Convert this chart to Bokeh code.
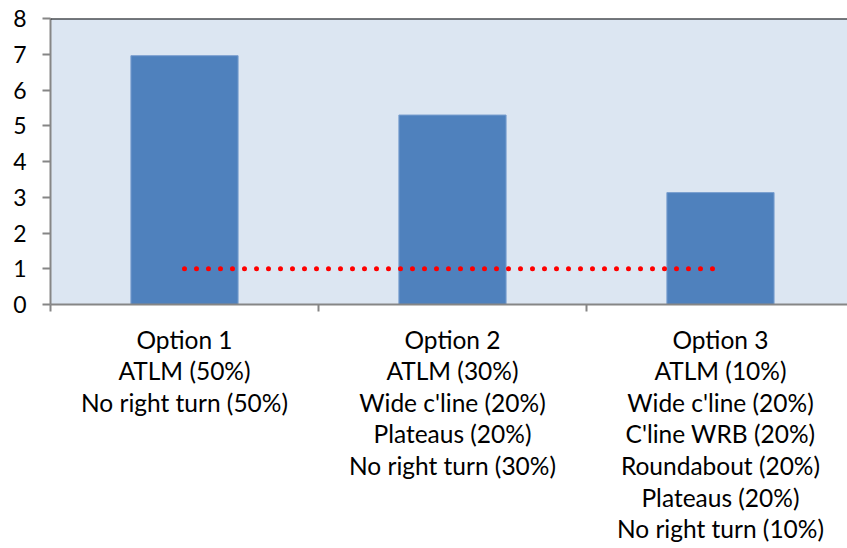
from bokeh.plotting import figure
from bokeh.models import Range1d, FixedTicker, ColumnDataSource, Span
from bokeh.embed import file_html
from bokeh.resources import INLINE

# ---- data ----
options = [1, 2, 3]
values = [6.96, 5.30, 3.13]
option_labels = [
    "Option 1\nATLM (50%)\nNo right turn (50%)",
    "Option 2\nATLM (30%)\nWide c'line (20%)\nPlateaus (20%)\nNo right turn (30%)",
    "Option 3\nATLM (10%)\nWide c'line (20%)\nC'line WRB (20%)\nRoundabout (20%)\nPlateaus (20%)\nNo right turn (10%)",
]
threshold_x = [1, 3]
threshold_y = [1, 1]
y_ticks = [0, 1, 2, 3, 4, 5, 6, 7, 8]
category_edges = [0.5, 1.5, 2.5, 3.5]

FONT = "Lato"
GRAY = "#868686"

p = figure(width=847, height=548, output_backend="svg", toolbar_location=None,
           x_range=Range1d(0.5, 3.474), y_range=Range1d(0, 8),
           min_border_left=50, min_border_right=0, min_border_top=18,
           min_border_bottom=244)
p.background_fill_color = "#DCE6F2"
p.border_fill_color = "white"
p.outline_line_color = None
p.xgrid.visible = False
p.ygrid.visible = False

src = ColumnDataSource(dict(x=options, top=values))
p.vbar(x="x", top="top", width=0.4, source=src,
       fill_color="#4F81BD", line_color="#7A9FCF", line_width=1)
p.line(threshold_x, threshold_y, line_color="#FF0000", line_width=5,
       line_dash="0 12", line_cap="round")

# x axis
xa = p.xaxis[0]
xa.ticker = FixedTicker(ticks=options, minor_ticks=category_edges)
xa.major_label_overrides = {o: lab for o, lab in zip(options, option_labels)}
xa.major_tick_line_color = None
xa.major_tick_out = 0
xa.major_tick_in = 0
xa.minor_tick_line_color = GRAY
xa.minor_tick_line_width = 2
xa.minor_tick_out = 7
xa.minor_tick_in = 0
xa.axis_line_color = GRAY
xa.axis_line_width = 2
xa.major_label_standoff = 13
xa.major_label_text_font = FONT
xa.major_label_text_font_size = "24.5px"
xa.major_label_text_color = "black"
xa.major_label_text_line_height = 1.09

# y axis
ya = p.yaxis[0]
ya.ticker = FixedTicker(ticks=y_ticks, minor_ticks=[])
ya.major_tick_line_color = GRAY
ya.major_tick_line_width = 2
ya.major_tick_out = 8
ya.major_tick_in = 0
ya.minor_tick_line_color = None
ya.axis_line_color = GRAY
ya.axis_line_width = 2
ya.major_label_standoff = 16
ya.major_label_text_font = FONT
ya.major_label_text_font_size = "23px"
ya.major_label_text_color = "black"

# top border line
p.add_layout(Span(location=8, dimension="width", line_color="black", line_width=2))

open("out.html", "w").write(file_html(p, INLINE))
